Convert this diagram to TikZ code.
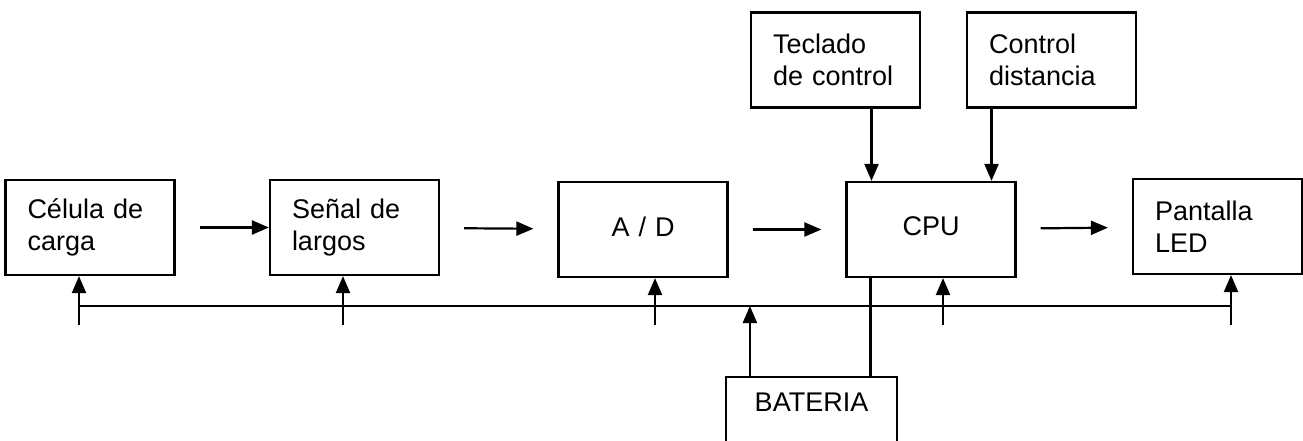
\documentclass[tikz,border=0pt]{standalone}
\usepackage{fontspec}
\setmainfont{Liberation Sans}
\usetikzlibrary{arrows.meta}

\begin{document}
\begin{tikzpicture}[
        x=1pt, y=-1pt,
        bloque/.style={
            draw,
            line width=2.2pt,
            text width=125pt,
            inner xsep=22pt,
            minimum height=95pt,
            align=left,
            font=\fontsize{27}{32}\selectfont
        },
        centrado/.style={bloque, align=center, text depth=6pt},
        flecha/.style={-{Triangle[length=17pt, width=14pt]}, line width=2.2pt},
        linea/.style={line width=2.2pt}
    ]
        \useasboundingbox (0,0) rectangle (1303,441);
        \clip (0,0) rectangle (1303,441);

        \node[bloque] (celula) at (90,227.5) {Célula de\\carga};
        \node[bloque] (senal) at (354.5,227.5) {Señal de\\largos};
        \node[centrado] (adc) at (643,229.5) {A / D};
        \node[centrado] (cpu) at (931,229.5) {CPU};
        \node[bloque] (pantalla) at (1217.5,226.5) {Pantalla\\LED};

        \node[bloque] (teclado) at (835.5,60) {Teclado\\de control};
        \node[bloque] (control) at (1051.5,60) {Control\\distancia};

        \node[centrado, draw=none, minimum height=55pt] (bateria) at (811.5,405.5) {BATERIA};
        \draw[linea] ([yshift=-80pt]bateria.south west) -- (bateria.north west)
            -- (bateria.north east) -- ([yshift=-80pt]bateria.south east);

        \draw[flecha] ([xshift=24pt]celula.east) -- (senal.west);
        \draw[flecha, shorten <=24pt, shorten >=24pt] (senal) -- (adc);
        \draw[flecha, shorten <=24pt, shorten >=24pt] (adc) -- (cpu);
        \draw[flecha, shorten <=24pt, shorten >=24pt] (cpu) -- (pantalla);

        \draw[flecha] ([xshift=36pt]teclado.south) -- ([xshift=36pt]teclado.south |- cpu.north);
        \draw[flecha] ([xshift=-60pt]control.south) -- ([xshift=-60pt]control.south |- cpu.north);

        \coordinate (busizq) at (79,306);
        \coordinate (busder) at (1231,306);
        \draw[linea] (busizq) -- (busder);

        \coordinate (a1) at (79,325);
        \coordinate (a2) at (343,325);
        \coordinate (a3) at (655,325);
        \coordinate (a4) at (943,325);
        \coordinate (a5) at (1231,325);
        \draw[flecha] (a1) -- (a1 |- celula.south);
        \draw[flecha] (a2) -- (a2 |- senal.south);
        \draw[flecha] (a3) -- (a3 |- adc.south);
        \draw[flecha] (a4) -- (a4 |- cpu.south);
        \draw[flecha] (a5) -- (a5 |- pantalla.south);

        \draw[flecha] ([xshift=24pt]bateria.north west) -- ([xshift=24pt]bateria.north west |- busizq);
        \draw[linea] ([xshift=25pt]cpu.south west) -- ([xshift=25pt]cpu.south west |- bateria.north);
    \end{tikzpicture}
\end{document}
